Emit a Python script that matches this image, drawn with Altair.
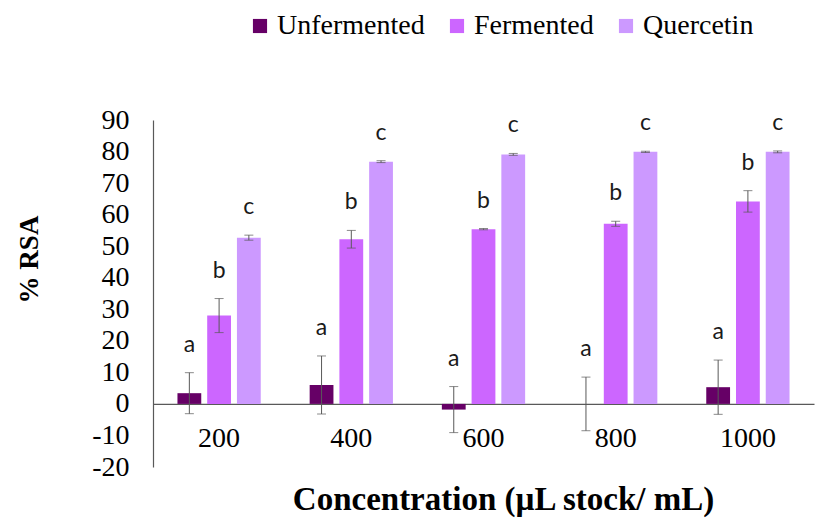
import altair as alt
import pandas as pd

# Radical scavenging activity (% RSA) by extract concentration
concs = ["200", "400", "600", "800", "1000"]
series = ["Unfermented", "Fermented", "Quercetin"]
letters = ["a", "b", "c"]
y_ticks = [-20, -10, 0, 10, 20, 30, 40, 50, 60, 70, 80, 90]

unfermented = [3.4, 6.0, -1.8, 0.0, 5.3]
unfermented_err = [6.5, 9.2, 7.3, 8.5, 8.6]
fermented = [28.0, 52.2, 55.4, 57.1, 64.2]
fermented_err = [5.4, 2.8, 0.2, 0.8, 3.4]
quercetin = [52.7, 76.8, 79.1, 79.9, 79.9]
quercetin_err = [0.8, 0.3, 0.3, 0.2, 0.3]

colors = ["#660066", "#CC66FF", "#CC99FF"]

rows = []
for name, letter, vals, errs in zip(
    series,
    letters,
    [unfermented, fermented, quercetin],
    [unfermented_err, fermented_err, quercetin_err],
):
    for c, v, e in zip(concs, vals, errs):
        rows.append({"conc": c, "series": name, "letter": letter,
                     "value": v, "lo": v - e, "hi": v + e})
df = pd.DataFrame(rows)

serif = "Liberation Serif"
W, H = 661, 347
y_dom = [y_ticks[0], y_ticks[-1]]
zero_offset = -H * (0 - y_dom[0]) / (y_dom[1] - y_dom[0])

x_enc = alt.X(
    "conc:N", sort=concs,
    scale=alt.Scale(paddingInner=0.325, paddingOuter=0.1625),
    axis=alt.Axis(
        title="Concentration (µL stock/ mL)", labelAngle=0, ticks=False,
        domainColor="#595959", domainWidth=1.2, offset=zero_offset,
        labelPadding=21, labelFont=serif, labelFontSize=28, labelColor="black",
        titleFont=serif, titleFontSize=33, titleFontWeight="bold", titleColor="black",
        titleX=350, titleY=96, titleAnchor="middle", titleAlign="center",
        titleBaseline="middle",
    ),
)
xo_enc = alt.XOffset("series:N", sort=series,
                     scale=alt.Scale(paddingInner=0.2, paddingOuter=0.1))
y_scale = alt.Scale(domain=y_dom, nice=False, zero=False)
y_axis = alt.Axis(
    title="% RSA", values=y_ticks, tickCount=len(y_ticks), ticks=False, grid=False,
    labelOverlap=False, labelExpr="toString(datum.value)",
    domainColor="#595959", domainWidth=1.2, labelPadding=24,
    labelFont=serif, labelFontSize=28, labelColor="black",
    titleFont=serif, titleFontSize=27, titleFontWeight="bold", titleColor="black",
    titleAngle=-90, titleX=-124, titleY=139, titleAlign="center",
    titleBaseline="middle",
)

bars = alt.Chart(df).mark_bar().encode(
    x=x_enc,
    xOffset=xo_enc,
    y=alt.Y("value:Q", scale=y_scale, axis=y_axis),
    color=alt.Color(
        "series:N", sort=series,
        scale=alt.Scale(domain=series, range=colors),
        legend=alt.Legend(
            title=None, orient="none", direction="horizontal",
            legendX=93, legendY=-108, symbolType="square", symbolSize=200,
            symbolStrokeWidth=0, labelFont=serif, labelFontSize=28,
            labelColor="black", labelOffset=3, columnPadding=18, padding=0,
            labelLimit=300,
        ),
    ),
)

err = alt.Chart(df).mark_rule(color="#595959", strokeWidth=1).encode(
    x=alt.X("conc:N", sort=concs),
    xOffset=alt.XOffset("series:N", sort=series),
    y=alt.Y("lo:Q", scale=y_scale, axis=y_axis),
    y2="hi:Q",
)
cap_lo = alt.Chart(df).mark_tick(
    orient="horizontal", size=9, thickness=1, color="#595959"
).encode(
    x=alt.X("conc:N", sort=concs),
    xOffset=alt.XOffset("series:N", sort=series),
    y=alt.Y("lo:Q", scale=y_scale, axis=y_axis),
)
cap_hi = alt.Chart(df).mark_tick(
    orient="horizontal", size=9, thickness=1, color="#595959"
).encode(
    x=alt.X("conc:N", sort=concs),
    xOffset=alt.XOffset("series:N", sort=series),
    y=alt.Y("hi:Q", scale=y_scale, axis=y_axis),
)
labels = alt.Chart(df).mark_text(
    font="Lato", fontSize=23, color="#1a1a1a", baseline="alphabetic", dy=-21
).encode(
    x=alt.X("conc:N", sort=concs),
    xOffset=alt.XOffset("series:N", sort=series),
    y=alt.Y("hi:Q", scale=y_scale, axis=y_axis),
    text="letter:N",
)

chart = (
    alt.layer(bars, err, cap_lo, cap_hi, labels)
    .properties(
        width=W, height=H,
        autosize=alt.AutoSizeParams(type="none"),
        padding={"left": 153, "top": 120, "right": 2, "bottom": 53},
        background="white",
    )
    .configure_view(stroke=None)
    .configure_axisY(labelOverlap=False)
)

chart.save("out.html", embed_options={"renderer": "svg", "actions": False})
